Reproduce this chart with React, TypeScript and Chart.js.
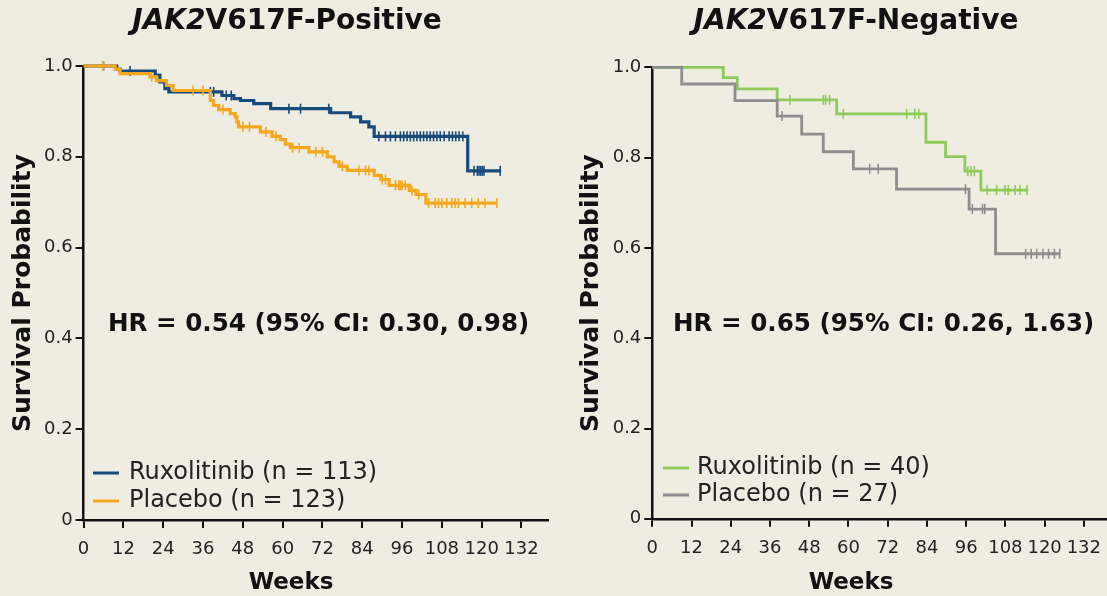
import React, { useEffect, useRef } from "react";
import { Chart, registerables } from "chart.js";

Chart.register(...registerables);

// ---------- data ----------
const xTickValues = [0, 12, 24, 36, 48, 60, 72, 84, 96, 108, 120, 132];
const yTickValues = [0, 0.2, 0.4, 0.6, 0.8, 1.0];

// JAK2V617F-Positive : Ruxolitinib (n = 113)
const posRuxTimes = [0, 10, 11, 21.6, 23, 24.5, 25.7, 41.7, 45.3, 47.3, 51.3, 56.4, 74.5, 80.5, 83.5, 86, 87.6, 115.8, 125.6];
const posRuxSurv = [1, 0.993, 0.989, 0.98, 0.965, 0.95, 0.943, 0.935, 0.928, 0.924, 0.917, 0.906, 0.897, 0.888, 0.877, 0.866, 0.845, 0.769, 0.769];
const posRuxCensor = [6, 14, 38.2, 39.2, 43, 44.5, 61.9, 65.4, 73.9, 89, 91, 92.5, 94, 95.5, 96.5, 97.5, 98.5, 99.5, 100.5, 101.5, 102.5, 103.5, 104.5, 105.5, 106.5, 107.5, 108.7, 110.2, 111.2, 112.2, 113.2, 114.3, 117.7, 118.7, 119.2, 119.7, 120.2, 120.7, 125.6];

// JAK2V617F-Positive : Placebo (n = 123)
const posPboTimes = [0, 9.5, 11, 20, 22, 25, 27, 38.2, 39.2, 40.7, 44.2, 45.7, 46.2, 46.7, 53.3, 56.8, 59.3, 60.8, 62.3, 67.9, 73.5, 75.5, 77, 79.5, 87.6, 89.6, 92.1, 98.2, 100.2, 103.2, 124.6];
const posPboSurv = [1, 0.993, 0.983, 0.976, 0.968, 0.957, 0.946, 0.924, 0.913, 0.904, 0.895, 0.888, 0.877, 0.866, 0.855, 0.845, 0.838, 0.828, 0.82, 0.811, 0.8, 0.789, 0.779, 0.77, 0.759, 0.75, 0.737, 0.726, 0.717, 0.698, 0.698];
const posPboCensor = [5.9, 20.5, 33, 36, 42, 48, 50, 55, 58, 63, 65, 70, 72, 78, 83, 85, 86, 90, 91, 94, 95, 95.5, 96, 97, 99, 101, 104, 106, 107, 108, 109.5, 111, 112, 113, 115, 117, 119, 121, 124.6];

// JAK2V617F-Negative : Ruxolitinib (n = 40)
const negRuxTimes = [0, 21.7, 26, 38.2, 56.4, 83.7, 89.7, 95.6, 100.5, 115];
const negRuxSurv = [1, 0.977, 0.952, 0.928, 0.897, 0.834, 0.802, 0.77, 0.728, 0.728];
const negRuxCensor = [42.1, 52.3, 53, 54.2, 58.4, 77.8, 80.3, 81.5, 96.5, 97.5, 98.5, 102.4, 105.3, 107.9, 108.9, 111, 112.5, 114.6];

// JAK2V617F-Negative : Placebo (n = 27)
const negPboTimes = [0, 9, 25.3, 38.2, 45.7, 52.3, 61.5, 74.7, 96.9, 105, 124.8];
const negPboSurv = [1, 0.963, 0.926, 0.892, 0.852, 0.813, 0.775, 0.73, 0.686, 0.587, 0.587];
const negPboCensor = [39.7, 66.5, 69.1, 95.8, 97.9, 101, 101.7, 114.2, 115.9, 117.6, 119.5, 121.2, 123, 124.6];

const posLabels = ["Ruxolitinib (n = 113)", "Placebo (n = 123)"];
const negLabels = ["Ruxolitinib (n = 40)", "Placebo (n = 27)"];
const posHR = "HR = 0.54 (95% CI: 0.30, 0.98)";
const negHR = "HR = 0.65 (95% CI: 0.26, 1.63)";
const posTitle = ["JAK2", "V617F-Positive"];
const negTitle = ["JAK2", "V617F-Negative"];

// ---------- styling / layout ----------
const BG = "#efece1";
const FONT = "'DejaVu Sans', Verdana, sans-serif";
const COLORS = {
  posRux: "#174b7c",
  posPbo: "#f5a81e",
  negRux: "#8ecb5a",
  negPbo: "#8e8e8e",
};

function stepPoints(times: number[], surv: number[]) {
  return times.map((t, i) => ({ x: t, y: surv[i] }));
}
function survAt(times: number[], surv: number[], t: number) {
  let v = surv[0];
  for (let i = 0; i < times.length; i++) {
    if (times[i] <= t) v = surv[i];
  }
  return v;
}
function censorPoints(times: number[], surv: number[], cens: number[]) {
  return cens.map((t) => ({ x: t, y: survAt(times, surv, t) }));
}

type Panel = {
  canvasLeft: number;
  width: number;
  height: number;
  padTop: number;
  padRight: number;
  yWidth: number;
  xHeight: number;
  yTitlePad: number;
  lineWidth: number;
  series: { times: number[]; surv: number[]; cens: number[]; color: string; label: string }[];
  title: string[];
  titleX: number;
  titleY: number;
  hr: string;
  hrX: number;
  hrY: number;
  legendX: number;
  legendY: number[];
  legendTextX: number;
  weeksX: number;
  weeksY: number;
};

const panels: Panel[] = [
  {
    canvasLeft: 0,
    width: 560,
    height: 596,
    padTop: 66,
    padRight: 12,
    yWidth: 83.6,
    xHeight: 76,
    yTitlePad: 8.5,
    lineWidth: 3.2,
    series: [
      { times: posRuxTimes, surv: posRuxSurv, cens: posRuxCensor, color: COLORS.posRux, label: posLabels[0] },
      { times: posPboTimes, surv: posPboSurv, cens: posPboCensor, color: COLORS.posPbo, label: posLabels[1] },
    ],
    title: posTitle,
    titleX: 287,
    titleY: 22,
    hr: posHR,
    hrX: 108,
    hrY: 325,
    legendX: 93,
    legendY: [473, 501],
    legendTextX: 129,
    weeksX: 291,
    weeksY: 583,
  },
  {
    canvasLeft: 560,
    width: 560,
    height: 596,
    padTop: 67.3,
    padRight: 10,
    yWidth: 92.3,
    xHeight: 77.2,
    yTitlePad: 16.5,
    lineWidth: 2.8,
    series: [
      { times: negRuxTimes, surv: negRuxSurv, cens: negRuxCensor, color: COLORS.negRux, label: negLabels[0] },
      { times: negPboTimes, surv: negPboSurv, cens: negPboCensor, color: COLORS.negPbo, label: negLabels[1] },
    ],
    title: negTitle,
    titleX: 856,
    titleY: 22,
    hr: negHR,
    hrX: 673,
    hrY: 325,
    legendX: 663,
    legendY: [468, 495],
    legendTextX: 697,
    weeksX: 851,
    weeksY: 583,
  },
];

function makeChart(canvas: HTMLCanvasElement, p: Panel) {
  const datasets: any[] = [];
  p.series.forEach((s, i) => {
    datasets.push({
      type: "line",
      label: s.label,
      data: stepPoints(s.times, s.surv),
      borderColor: s.color,
      backgroundColor: s.color,
      borderWidth: p.lineWidth,
      stepped: "before",
      pointRadius: 0,
      fill: false,
      clip: false,
      order: i === 0 ? 2 : 1,
    });
    datasets.push({
      type: "scatter",
      label: s.label + " censored",
      data: censorPoints(s.times, s.surv, s.cens),
      borderColor: s.color,
      backgroundColor: s.color,
      pointStyle: "line",
      rotation: 90,
      pointRadius: 5,
      borderWidth: 1.6,
      showLine: false,
      clip: false,
      order: i === 0 ? 2 : 1,
    });
  });

  const overlay = {
    id: "overlay" + p.canvasLeft,
    afterDraw(chart: any) {
      const ctx = chart.ctx as CanvasRenderingContext2D;
      const off = p.canvasLeft;
      ctx.save();
      // Title: italic "JAK2" + bold rest
      const f1 = `italic bold 28px ${FONT}`;
      const f2 = `bold 28px ${FONT}`;
      ctx.font = f1;
      const w1 = ctx.measureText(p.title[0]).width;
      ctx.font = f2;
      const w2 = ctx.measureText(p.title[1]).width;
      const start = p.titleX - off - (w1 + w2) / 2;
      ctx.fillStyle = "#111";
      ctx.textBaseline = "middle";
      ctx.textAlign = "left";
      ctx.font = f1;
      ctx.fillText(p.title[0], start, p.titleY);
      ctx.font = f2;
      ctx.fillText(p.title[1], start + w1, p.titleY);

      // HR text
      ctx.font = `bold 24.6px ${FONT}`;
      ctx.fillText(p.hr, p.hrX - off, p.hrY);

      // Legend
      ctx.font = `24px ${FONT}`;
      p.series.forEach((s, i) => {
        const y = p.legendY[i];
        ctx.strokeStyle = s.color;
        ctx.lineWidth = 3;
        ctx.beginPath();
        ctx.moveTo(p.legendX - off, y);
        ctx.lineTo(p.legendX - off + 26, y);
        ctx.stroke();
        ctx.fillStyle = "#222";
        ctx.fillText(s.label, p.legendTextX - off, y);
      });

      // x-axis title
      ctx.fillStyle = "#111";
      ctx.font = `bold 23px ${FONT}`;
      ctx.textAlign = "center";
      ctx.fillText("Weeks", p.weeksX - off, p.weeksY);
      ctx.restore();
    },
  };

  const bgPlugin = {
    id: "bg" + p.canvasLeft,
    beforeDraw(chart: any) {
      const ctx = chart.ctx;
      ctx.save();
      ctx.fillStyle = BG;
      ctx.fillRect(0, 0, chart.width, chart.height);
      ctx.restore();
    },
  };

  return new Chart(canvas, {
    type: "line",
    data: { datasets },
    plugins: [bgPlugin, overlay],
    options: {
      responsive: false,
      animation: false,
      devicePixelRatio: 1,
      layout: { padding: { top: p.padTop, right: p.padRight, left: 0, bottom: 0 } },
      plugins: {
        legend: { display: false },
        tooltip: { enabled: false },
        title: { display: false },
      },
      scales: {
        x: {
          type: "linear",
          min: 0,
          max: 140,
          afterFit: (axis: any) => {
            axis.height = p.xHeight;
          },
          afterBuildTicks: (axis: any) => {
            axis.ticks = xTickValues.map((v) => ({ value: v }));
          },
          grid: {
            display: true,
            drawOnChartArea: false,
            drawTicks: true,
            tickLength: 8,
            color: "#111",
            lineWidth: 2,
          },
          border: { display: true, color: "#111", width: 2.5 },
          ticks: {
            color: "#222",
            font: { family: FONT, size: 18 },
            padding: 11,
            maxRotation: 0,
            autoSkip: false,
          },
        },
        y: {
          type: "linear",
          min: 0,
          max: 1,
          afterFit: (axis: any) => {
            axis.width = p.yWidth;
          },
          afterBuildTicks: (axis: any) => {
            axis.ticks = yTickValues.map((v) => ({ value: v }));
          },
          grid: {
            display: true,
            drawOnChartArea: false,
            drawTicks: true,
            tickLength: 8,
            color: "#111",
            lineWidth: 2,
          },
          border: { display: true, color: "#111", width: 2.5 },
          ticks: {
            color: "#222",
            font: { family: FONT, size: 18 },
            padding: 3,
            autoSkip: false,
            callback: (v: any) => (Number(v) === 0 ? "0" : Number(v).toFixed(1)),
          },
          title: {
            display: true,
            text: "Survival Probability",
            color: "#111",
            font: { family: FONT, size: 25, weight: "bold" },
            padding: { top: p.yTitlePad, bottom: 0 },
          },
        },
      },
    },
  } as any);
}

function Panel({ p }: { p: Panel }) {
  const ref = useRef<HTMLCanvasElement | null>(null);
  useEffect(() => {
    if (!ref.current) return;
    const chart = makeChart(ref.current, p);
    return () => chart.destroy();
  }, [p]);
  return (
    <canvas
      ref={ref}
      width={p.width}
      height={p.height}
      style={{ position: "absolute", left: p.canvasLeft, top: 0, width: p.width, height: p.height }}
    />
  );
}

export default function App() {
  return (
    <div
      style={{
        position: "fixed",
        left: 0,
        top: 0,
        width: 1107,
        height: 596,
        overflow: "hidden",
        background: BG,
      }}
    >
      {panels.map((p) => (
        <Panel key={p.canvasLeft} p={p} />
      ))}
    </div>
  );
}
